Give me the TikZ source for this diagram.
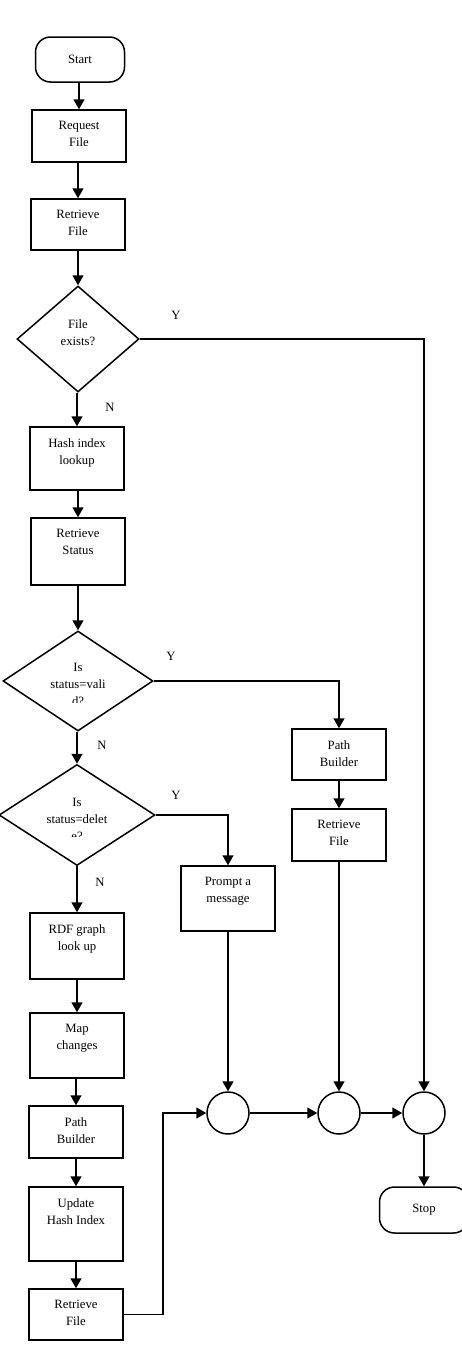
\documentclass[tikz,border=0pt]{standalone}
\usepackage{fontspec}
\setmainfont{Liberation Serif}
\usetikzlibrary{shapes.geometric, arrows.meta}

\begin{document}
\begin{tikzpicture}[x=1pt, y=-1pt, line width=1.5pt,
  font=\fontsize{12.7}{17}\selectfont,
  box/.style={draw, rectangle, minimum width=94pt, inner sep=0pt},
  term/.style={draw, rectangle, rounded corners=15pt, minimum width=89pt,
    minimum height=45pt, inner sep=0pt},
  cond/.style={draw, diamond, inner sep=0pt},
  merge/.style={draw, circle, minimum size=42pt, inner sep=0pt},
  txt/.style={anchor=north, yshift=-11.5pt, align=center, inner sep=0pt},
  arr/.style={-{Triangle[width=11pt, length=10pt]}}]
  \useasboundingbox (0,0) rectangle (461,1363);

  % 左列
  \node[term] (start) at (80,59.5) {Start};
  \node[box, minimum height=52pt, label={[txt]north:Request\\File}] (request) at (79,136) {};
  \node[box, minimum height=51pt, label={[txt]north:Retrieve\\File}] (retrieve) at (78,224.5) {};
  \node[cond, minimum width=122pt, minimum height=106pt] (exists) at (78,339) {};
  \node[align=center] (existstxt) at (78,333) {File\\exists?};
  \node[box, minimum height=63pt, label={[txt]north:Hash index\\lookup}] (hash) at (77,458.5) {};
  \node[box, minimum height=67pt, label={[txt]north:Retrieve\\Status}] (status) at (78,551.5) {};
  \node[cond, minimum width=150pt, minimum height=100pt] (valid) at (78,681) {};
  \node[cond, minimum width=156pt, minimum height=101pt] (delete) at (77,815) {};
  \node[box, minimum height=66pt, label={[txt]north:RDF graph\\look up}] (rdf) at (77,946) {};
  \node[box, minimum height=65pt, label={[txt]north:Map\\changes}] (map) at (77,1045.5) {};
  \node[box, minimum height=52pt, label={[txt]north:Path\\Builder}] (pathB) at (76,1132) {};
  \node[box, minimum height=74pt, label={[txt]north:Update\\Hash Index}] (update) at (76,1224) {};
  \node[box, minimum height=51pt, label={[txt]north:Retrieve\\File}] (fileB) at (76,1314.5) {};

  % 菱形内被截断的文字
  \begin{scope}
    \clip (0,640) rectangle (160,702);
    \node[align=center] (validtxt) at (78,684) {Is\\status=vali\\d?};
  \end{scope}
  \begin{scope}
    \clip (0,780) rectangle (160,836);
    \node[align=center] (deletetxt) at (77,819) {Is\\status=delet\\e?};
  \end{scope}

  % 右侧
  \node[box, minimum height=51pt, label={[txt]north:Path\\Builder}] (pathA) at (339,754.5) {};
  \node[box, minimum height=52pt, label={[txt]north:Retrieve\\File}] (fileA) at (339,835) {};
  \node[box, minimum height=65pt, label={[txt]north:Prompt a\\message}] (prompt) at (228,898.5) {};
  \node[merge] (j1) at (228,1113) {};
  \node[merge] (j2) at (339,1113) {};
  \node[merge] (j3) at (424,1113) {};
  \node[term, minimum height=46pt] (stop) at (424,1210) {Stop};

  % Y / N
  \node (y1) at (176,315) {Y};
  \node (n1) at (110,407) {N};
  \node (y2) at (171,656) {Y};
  \node (n2) at (102,745) {N};
  \node (y3) at (176,795) {Y};
  \node (n3) at (100,882) {N};

  % 箭头
  \draw[arr] (start.south -| request.north) -- (request.north);
  \draw[arr] (request.south -| retrieve.north) -- (retrieve.north);
  \draw[arr] (retrieve.south) -- (exists.north);
  \draw[arr] (exists.south -| hash.north) -- (hash.north);
  \draw[arr] (hash.south -| status.north) -- (status.north);
  \draw[arr] (status.south) -- (valid.north);
  \draw[arr] (valid.south -| delete.north) -- (delete.north);
  \draw[arr] (delete.south) -- (rdf.north);
  \draw[arr] (rdf.south) -- (map.north);
  \draw[arr] (map.south -| pathB.north) -- (pathB.north);
  \draw[arr] (pathB.south) -- (update.north);
  \draw[arr] (update.south) -- (fileB.north);

  \draw[arr] (exists.east) -| (j3.north);
  \draw[arr] (valid.east) -| (pathA.north);
  \draw[arr] (pathA.south) -- (fileA.north);
  \draw[arr] (fileA.south) -- (j2.north);
  \draw[arr] (delete.east) -| (prompt.north);
  \draw[arr] (prompt.south) -- (j1.north);
  \draw[arr] (fileB.east) -- ++(39,0) |- (j1.west);
  \draw[arr] (j1) -- (j2);
  \draw[arr] (j2) -- (j3);
  \draw[arr] (j3) -- (stop);
\end{tikzpicture}
\end{document}
